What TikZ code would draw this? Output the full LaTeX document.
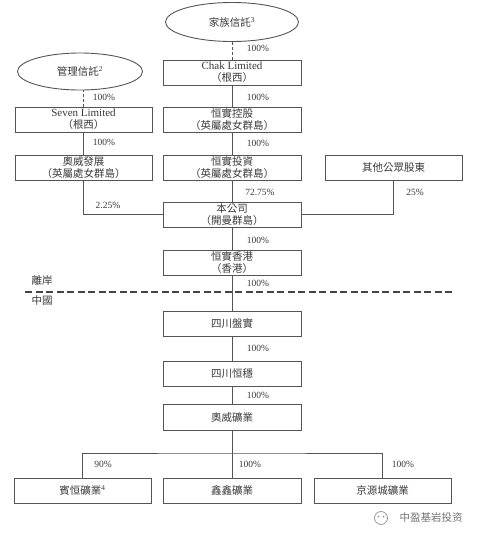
\documentclass[tikz,border=0pt]{standalone}
\usepackage{fontspec}
\setmainfont{Liberation Serif}
\newfontfamily\cjk[RawFeature=+halt]{Noto Sans CJK TC}
\newfontfamily\cjksc{Noto Sans CJK SC}
\usetikzlibrary{shapes.geometric}
\definecolor{linecol}{HTML}{555555}
\definecolor{txtcol}{HTML}{3A3A3A}
\tikzset{
  box/.style={draw=linecol, line width=0.9pt, minimum width=138pt, minimum height=25pt,
    inner sep=0pt, align=center, text=txtcol, font=\cjk\fontsize{10.5}{12}\selectfont},
  oval/.style={ellipse, draw=linecol, line width=0.9pt, inner sep=0pt, text=txtcol,
    font=\cjk\fontsize{10.5}{12}\selectfont},
  pct/.style={inner sep=0pt, text=txtcol, font=\rmfamily\fontsize{9.5}{10}\selectfont},
  zone/.style={inner sep=0pt, text=txtcol, font=\cjk\fontsize{10.5}{12}\selectfont},
  link/.style={draw=linecol, line width=0.9pt},
  dlink/.style={link, dash pattern=on 3pt off 2pt},
  divider/.style={draw=linecol!80!black, line width=1.2pt, dash pattern=on 7pt off 3.5pt}
}
\begin{document}
\begin{tikzpicture}[x=1pt,y=-1pt]
\useasboundingbox[fill=white] (0,0) rectangle (478,539);

% top ovals
\node[oval, minimum width=133pt, minimum height=39pt] (fam) at (232,22) {家族信託\textsuperscript{\rmfamily 3}};
\node[oval, minimum width=125pt, minimum height=37pt] (mgmt) at (80,71.5) {管理信託\textsuperscript{\rmfamily 2}};

% central column
\node[box] (chak) at (232,72.5) {{\rmfamily\fontsize{11}{12}\selectfont Chak Limited}\\（根西）};
\node[box] (hsk) at (232,119.5) {恒實控股\\（英屬處女群島）};
\node[box] (hst) at (232,167.5) {恒實投資\\（英屬處女群島）};
\node[box, minimum width=137pt] (other) at (393.5,167.5) {其他公眾股東};
\node[box, minimum width=137pt] (seven) at (83.5,119.5) {{\rmfamily\fontsize{11}{12}\selectfont Seven Limited}\\（根西）};
\node[box, minimum width=137pt] (awfz) at (83.5,167.5) {奧威發展\\（英屬處女群島）};
\node[box] (co) at (232,214.5) {本公司\\（開曼群島）};
\node[box] (hk) at (232,262.5) {恒實香港\\（香港）};
\node[box] (pans) at (232,323.5) {四川盤實};
\node[box] (hw) at (232,373.5) {四川恒穩};
\node[box, minimum height=26pt] (awky) at (232,417) {奧威礦業};
\node[box, minimum width=137pt] (bh) at (82.5,490.5) {賓恒礦業\textsuperscript{\rmfamily 4}};
\node[box] (xx) at (232,490.5) {鑫鑫礦業};
\node[box, minimum width=137pt] (jy) at (382.5,490.5) {京源城礦業};

% connectors
\draw[dlink] (fam) -- (chak);
\draw[dlink] (seven.north) -- (seven.north |- mgmt.south);
\draw[link] (chak) -- (hsk);
\draw[link] (hsk) -- (hst);
\draw[link] (hst) -- (co);
\draw[link] (seven) -- (awfz);
\draw[link] (awfz.south) |- (co.west);
\draw[link] (other.south) |- (co.east);
\draw[link] (co) -- (hk);
\draw[link] (hk) -- (pans);
\draw[link] (pans) -- (hw);
\draw[link] (hw) -- (awky);
\draw[link] (awky) -- (xx);
\coordinate (br) at (232,453);
\draw[link] (bh.north) |- (br) -| (jy.north);

% offshore / PRC divider
\coordinate (dl) at (25,292);
\coordinate (dr) at (452,292);
\draw[divider] (dl) -- (dr);
\node[zone] (offshore) at (42,280) {離岸};
\node[zone] (prc) at (42,301) {中國};

% percentages
\node[pct] (p1) at (258,48) {100\%};
\node[pct] (p2) at (258,97) {100\%};
\node[pct] (p3) at (258,143) {100\%};
\node[pct] (p4) at (104,97) {100\%};
\node[pct] (p5) at (104,142) {100\%};
\node[pct] (p6) at (108,205) {2.25\%};
\node[pct] (p7) at (260,192) {72.75\%};
\node[pct] (p8) at (415,192) {25\%};
\node[pct] (p9) at (258,240) {100\%};
\node[pct] (p10) at (258,283) {100\%};
\node[pct] (p11) at (258,348) {100\%};
\node[pct] (p12) at (258,395) {100\%};
\node[pct] (p13) at (103,464) {90\%};
\node[pct] (p14) at (250,464) {100\%};
\node[pct] (p15) at (403,464) {100\%};

% watermark
\node[circle, draw=black!40, line width=0.8pt, minimum size=13pt, inner sep=0pt] (icon) at (381,518) {};
\node[circle, fill=black!40, minimum size=2pt, inner sep=0pt] (eye1) at (378.5,516.5) {};
\node[circle, fill=black!40, minimum size=2pt, inner sep=0pt] (eye2) at (383.5,516.5) {};
\node[inner sep=0pt, text=black!55, font=\cjksc\fontsize{10.5}{12}\selectfont] (wm) at (431,518) {中盈基岩投资};
\end{tikzpicture}
\end{document}
